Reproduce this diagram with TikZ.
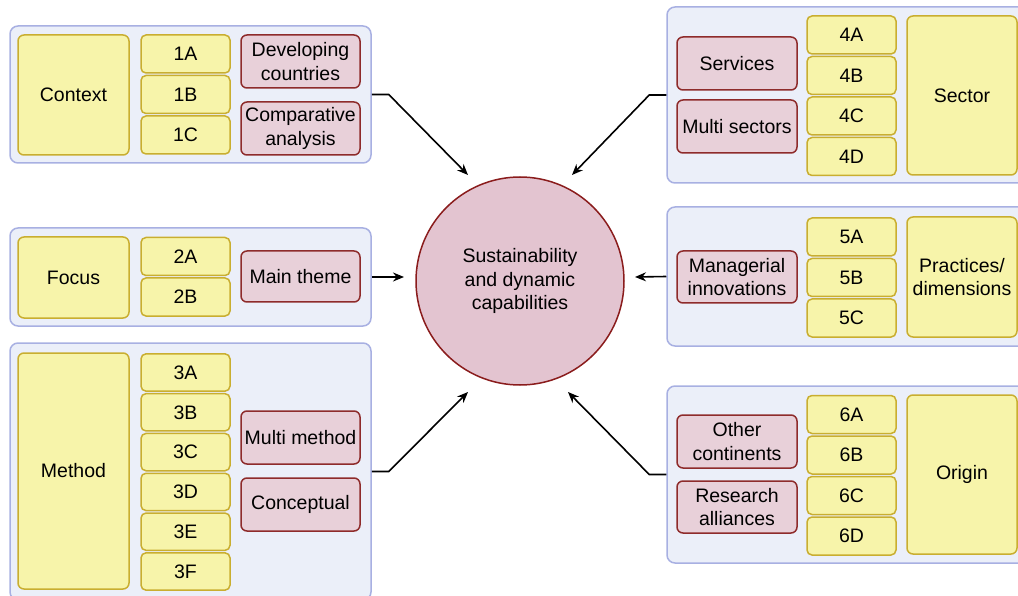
\documentclass[tikz,border=0pt]{standalone}
\usepackage{fontspec}
\setmainfont{Liberation Sans}
\usetikzlibrary{arrows.meta, positioning}

\definecolor{grpfill}{RGB}{235,239,249}
\definecolor{grpline}{RGB}{168,176,226}
\definecolor{codefill}{RGB}{247,244,170}
\definecolor{codeline}{RGB}{201,174,48}
\definecolor{tagfill}{RGB}{232,208,217}
\definecolor{tagline}{RGB}{142,43,43}
\definecolor{hubfill}{RGB}{227,196,208}
\definecolor{hubline}{RGB}{138,28,28}

\begin{document}
\begin{tikzpicture}[x=1pt, y=-1pt, node distance=1pt, >={Stealth[length=11pt,width=9pt]},
    font=\fontsize{19.5}{23.5}\selectfont,
    group/.style={rectangle, rounded corners=8pt, draw=grpline, fill=grpfill, line width=1.5pt, minimum width=361pt},
    dimbox/.style={rectangle, rounded corners=6pt, draw=codeline, fill=codefill, line width=1.5pt, align=center, minimum width=111pt, inner sep=0pt},
    code/.style={rectangle, rounded corners=5pt, draw=codeline, fill=codefill, line width=1.5pt, minimum width=89pt, minimum height=38pt, inner sep=0pt},
    tagbox/.style={rectangle, rounded corners=6pt, draw=tagline, fill=tagfill, line width=1.5pt, align=center, minimum width=119pt, minimum height=53pt, inner sep=0pt},
    link/.style={->, line width=1.6pt}]

    \useasboundingbox (0,0) rectangle (1018,596);
    \clip (0,0) rectangle (1018,596);

    % left column
    \node[group, minimum height=137pt] (ctxgrp) at (190.5,94.5) {};
    \node[dimbox, minimum height=120pt] (context) at (73.5,95) {Context};
    \node[code] (c1a) at (185.5,54) {1A};
    \node[code, below=of c1a] (c1b) {1B};
    \node[code, below=of c1b] (c1c) {1C};
    \node[tagbox] (developing) at (300.5,61.5) {Developing\\countries};
    \node[tagbox] (comparative) at (300.5,128.5) {Comparative\\analysis};

    \node[group, minimum height=98pt] (focgrp) at (190.5,277) {};
    \node[dimbox, minimum height=81pt] (focus) at (73.5,277.5) {Focus};
    \node[code] (c2a) at (185.5,256.5) {2A};
    \node[code, below=of c2a] (c2b) {2B};
    \node[tagbox, minimum height=51pt] (maintheme) at (300.5,276.5) {Main theme};

    \node[group, minimum height=257pt] (methgrp) at (190.5,471.5) {};
    \node[dimbox, minimum height=236pt] (method) at (73.5,471) {Method};
    \node[code, minimum height=37.3pt] (c3a) at (185.5,372.5) {3A};
    \node[code, minimum height=37.3pt, below=of c3a] (c3b) {3B};
    \node[code, minimum height=37.3pt, below=of c3b] (c3c) {3C};
    \node[code, minimum height=37.3pt, below=of c3c] (c3d) {3D};
    \node[code, minimum height=37.3pt, below=of c3d] (c3e) {3E};
    \node[code, minimum height=37.3pt, below=of c3e] (c3f) {3F};
    \node[tagbox] (multimethod) at (300.5,437.5) {Multi method};
    \node[tagbox] (conceptual) at (300.5,504.5) {Conceptual};

    % right column
    \node[group, minimum width=363pt, minimum height=176pt] (secgrp) at (848.5,95) {};
    \node[tagbox, minimum width=120pt] (services) at (737,63.5) {Services};
    \node[tagbox, minimum width=120pt] (multisectors) at (737,126.5) {Multi sectors};
    \node[code] (c4a) at (851.5,35) {4A};
    \node[code, below=of c4a] (c4b) {4B};
    \node[code, below=of c4b] (c4c) {4C};
    \node[code, below=of c4c] (c4d) {4D};
    \node[dimbox, minimum width=110pt, minimum height=159pt] (sector) at (962,95.5) {Sector};

    \node[group, minimum width=363pt, minimum height=139pt] (pracgrp) at (848.5,276.5) {};
    \node[tagbox, minimum width=120pt, minimum height=52pt] (managerial) at (737,277) {Managerial\\innovations};
    \node[code] (c5a) at (851.5,237) {5A};
    \node[code, below=of c5a] (c5b) {5B};
    \node[code, below=of c5b] (c5c) {5C};
    \node[dimbox, minimum width=110pt, minimum height=120pt] (practices) at (962,277) {Practices/\\dimensions};

    \node[group, minimum width=363pt, minimum height=177pt] (origgrp) at (848.5,474.5) {};
    \node[tagbox, minimum width=120pt] (continents) at (737,441.5) {Other\\continents};
    \node[tagbox, minimum width=120pt, minimum height=52pt] (alliances) at (737,507) {Research\\alliances};
    \node[code] (c6a) at (851.5,414.5) {6A};
    \node[code, below=of c6a] (c6b) {6B};
    \node[code, below=of c6b] (c6c) {6C};
    \node[code, below=of c6c] (c6d) {6D};
    \node[dimbox, minimum width=110pt, minimum height=159pt] (origin) at (962,474.5) {Origin};

    % centre
    \node[circle, draw=hubline, fill=hubfill, line width=1.5pt, minimum size=208pt, align=center] (hub) at (520,281)
        {Sustainability\\and dynamic\\capabilities};

    \coordinate (in1) at (468,175);
    \coordinate (in2) at (572,175);
    \coordinate (in3) at (404,277);
    \coordinate (in4) at (635,277);
    \coordinate (in5) at (468,392);
    \coordinate (in6) at (568,392);

    \draw[link] (ctxgrp.east) -- ++(17,0) -- (in1);
    \draw[link] (focgrp.east) -- (in3);
    \draw[link] (methgrp.east) -- ++(17,0) -- (in5);
    \draw[link] (secgrp.west) -- ++(-17,0) -- (in2);
    \draw[link] (pracgrp.west) -- (in4);
    \draw[link] (origgrp.west) -- ++(-17,0) -- (in6);

\end{tikzpicture}
\end{document}
